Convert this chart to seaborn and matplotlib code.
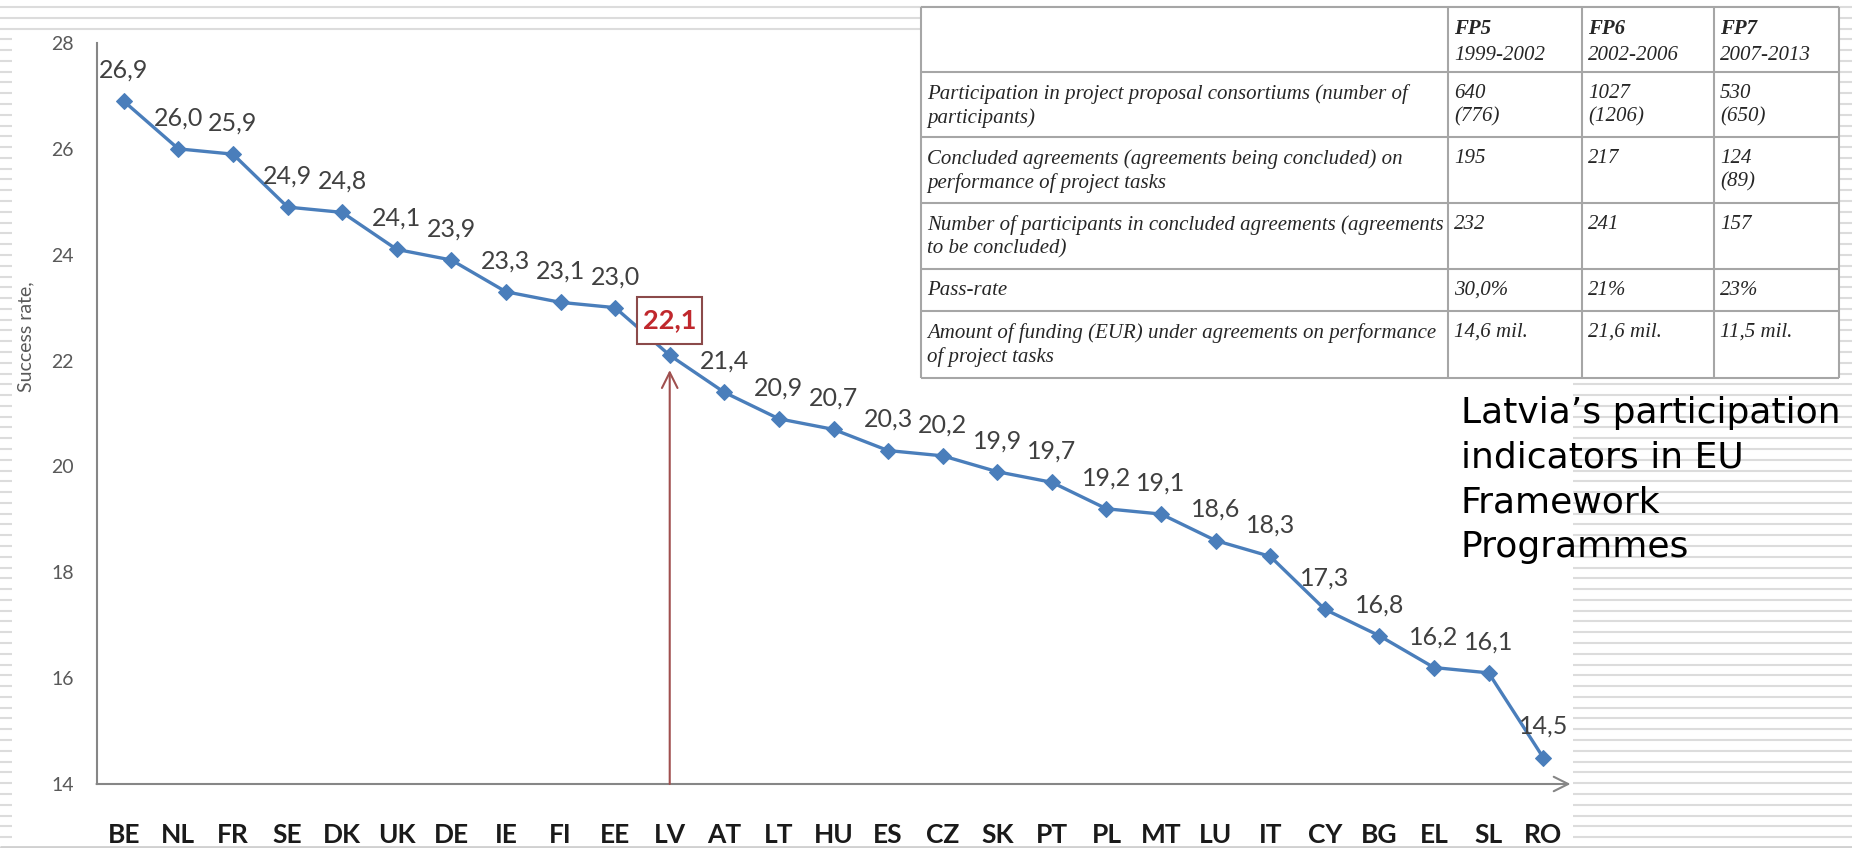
import numpy as np
import matplotlib
matplotlib.use("Agg")
import matplotlib.pyplot as plt
from matplotlib.patches import Rectangle
import seaborn as sns

# success rate per country (sorted, as in the source slide)
countries = ["BE", "NL", "FR", "SE", "DK", "UK", "DE", "IE", "FI", "EE", "LV", "AT", "LT", "HU",
             "ES", "CZ", "SK", "PT", "PL", "MT", "LU", "IT", "CY", "BG", "EL", "SL", "RO"]
success_rate = [26.9, 26.0, 25.9, 24.9, 24.8, 24.1, 23.9, 23.3, 23.1, 23.0, 22.1, 21.4, 20.9, 20.7,
                20.3, 20.2, 19.9, 19.7, 19.2, 19.1, 18.6, 18.3, 17.3, 16.8, 16.2, 16.1, 14.5]
highlight = "LV"
y_ticks = [14, 16, 18, 20, 22, 24, 26, 28]

# table of Latvia's participation in FP5-FP7
fp_names = ["FP5", "FP6", "FP7"]
fp_years = ["1999-2002", "2002-2006", "2007-2013"]
row_labels = [
    "Participation in project proposal consortiums (number of\nparticipants)",
    "Concluded agreements (agreements being concluded) on\nperformance of project tasks",
    "Number of participants in concluded agreements (agreements\nto be concluded)",
    "Pass-rate",
    "Amount of funding (EUR) under agreements on performance\nof project tasks",
]
fp5_values = ["640\n(776)", "195", "232", "30,0%", "14,6 mil."]
fp6_values = ["1027\n(1206)", "217", "241", "21%", "21,6 mil."]
fp7_values = ["530\n(650)", "124\n(89)", "157", "23%", "11,5 mil."]

title = "Latvia\u2019s participation\nindicators in EU\nFramework\nProgrammes"

sns.set_style("white")
plt.rcParams["font.family"] = ["Lato", "DejaVu Sans"]

W, H = 1852, 848
fig = plt.figure(figsize=(W / 100, H / 100), dpi=100)

# slide background: thin grey stripes, white picture of the chart on top
bg = fig.add_axes([0, 0, 1, 1], zorder=0)
bg.set_xlim(0, W)
bg.set_ylim(H, 0)
bg.axis("off")
bg.hlines(7 + 10.78 * np.arange(80), 0, W, color="#dcdcdc", lw=1.5, zorder=1)
bg.add_patch(Rectangle((12, 32), 1561, 812, fc="white", ec="none", zorder=3))
bg.hlines(846.5, 0, W, color="#d0d0d0", lw=2, zorder=4)

# main line chart
blue = "#4a7ebb"
grey = "#868686"
ax = fig.add_axes([96.5 / W, (H - 784) / H, 1474 / W, 741 / H], zorder=1)
ax.patch.set_alpha(0)
xs = np.arange(len(countries))
sns.lineplot(x=xs, y=success_rate, ax=ax, color=blue, lw=2.4, marker="D",
             markersize=8, markeredgecolor=blue, legend=False)

ax.set_xlim(-0.5, len(countries) - 0.5)
ax.set_ylim(14, 28)
for side in ["top", "right", "bottom"]:
    ax.spines[side].set_visible(False)
ax.spines["left"].set_color(grey)
ax.spines["left"].set_linewidth(1.5)

ax.set_yticks(y_ticks)
ax.tick_params(axis="y", length=4.3, width=1.3, color=grey, pad=12,
               labelsize=14, labelcolor="#595959")
ax.set_xticks(xs[:-1] + 0.5, [""] * (len(xs) - 1))
ax.set_xticks(xs, countries, minor=True, fontweight="bold", fontsize=19, color="#1a1a1a")
ax.tick_params(axis="x", which="major", length=7, width=1.3, color=grey)
ax.tick_params(axis="x", which="minor", length=0, pad=28)

# x axis drawn as an arrow
ax.annotate("", xy=(1.0, 0), xycoords="axes fraction", xytext=(0, 0),
            arrowprops=dict(arrowstyle="->", color=grey, lw=1.5, mutation_scale=26,
                            shrinkA=0, shrinkB=0), annotation_clip=False)

ax.set_ylabel("Success rate,", fontsize=14, color="#595959")
ax.yaxis.set_label_coords(-0.0424, 0.603)

# data labels
for i, v in enumerate(success_rate):
    txt = f"{v:.1f}".replace(".", ",")
    if countries[i] == highlight:
        # boxed label above the point, arrow from the axis up to it
        ax.add_patch(Rectangle((i - 0.6, v + 0.22), 1.2, 0.89, fc="white",
                               ec="#8b4a4a", lw=1.5, zorder=3))
        ax.annotate(txt, (i, v), xytext=(0, 25), textcoords="offset points",
                    ha="center", va="center", fontsize=19.5, fontweight="bold",
                    color="#c0282d", zorder=4)
        ax.annotate("", xy=(i, v - 0.28), xytext=(i, 14),
                    arrowprops=dict(arrowstyle="->", color="#a0504f", lw=1.5,
                                    mutation_scale=28, shrinkA=0, shrinkB=0))
    else:
        ax.annotate(txt, (i, v), xytext=(0, 22.3), textcoords="offset points",
                    ha="center", va="center", fontsize=18, color="#404040")

# overlay: table and slide title
ov = fig.add_axes([0, 0, 1, 1], zorder=2)
ov.set_xlim(0, W)
ov.set_ylim(H, 0)
ov.axis("off")
ov.patch.set_alpha(0)

col_x = [921, 1448, 1582, 1714, 1839]
row_y = [7, 72, 137, 203, 269, 311, 378]
ov.add_patch(Rectangle((col_x[0], row_y[0]), col_x[-1] - col_x[0], row_y[-1] - row_y[0],
                       fc="white", ec="none", zorder=1))
ov.vlines(col_x, row_y[0], row_y[-1], color="#a6a6a6", lw=1.5, zorder=2)
ov.hlines(row_y, col_x[0], col_x[-1], color="#a6a6a6", lw=1.5, zorder=2)

serif = "Liberation Serif"
fs = 15
for j in range(3):
    ov.text(col_x[j + 1] + 6, 19, fp_names[j], family=serif, style="italic", fontweight="bold",
            fontsize=fs, va="top", ha="left")
    ov.text(col_x[j + 1] + 6, 46, fp_years[j], family=serif, style="italic",
            fontsize=fs, va="top", ha="left")

for r, lab in enumerate(row_labels):
    top = row_y[r + 1] + 12
    ov.text(col_x[0] + 6, top, lab, family=serif, style="italic", fontsize=fs,
            va="top", ha="left", linespacing=1.3)
    for j, vals in enumerate([fp5_values, fp6_values, fp7_values]):
        ov.text(col_x[j + 1] + 6, top, vals[r], family=serif, style="italic", fontsize=fs,
                va="top", ha="left", linespacing=1.3)

ov.text(1461, 396, title, family="DejaVu Sans", fontsize=26, va="top", ha="left",
        linespacing=1.39, color="black")

fig.savefig("out.png", dpi=100)
